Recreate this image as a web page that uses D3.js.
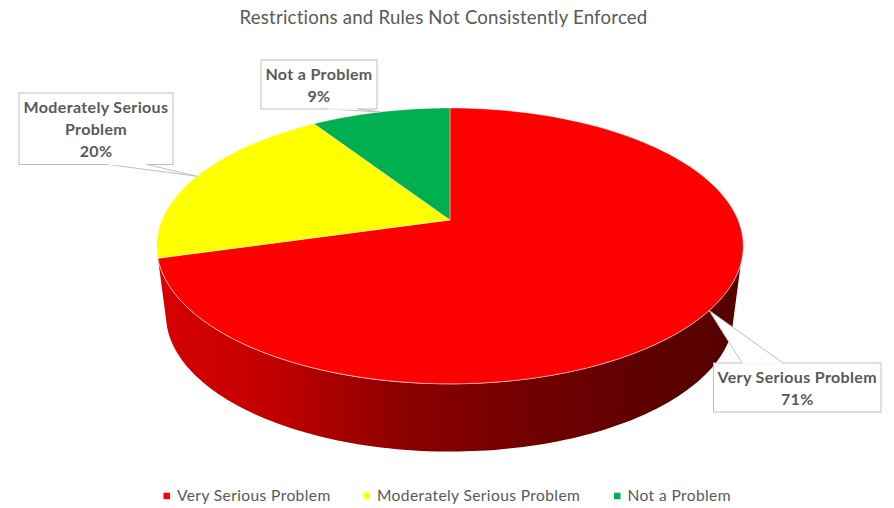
<!DOCTYPE html>
<html><head><meta charset="utf-8">
<script src="https://cdn.jsdelivr.net/npm/d3@7"></script>
<style>html,body{margin:0;padding:0;background:#fff}svg{display:block}text{font-family:Lato,Carlito,sans-serif}</style>
</head><body><svg id="c" width="894" height="508"></svg>
<script>
const chartTitle = "Restrictions and Rules Not Consistently Enforced";
const categories = ["Very Serious Problem", "Moderately Serious Problem", "Not a Problem"];
const values = [70.6, 20.2, 9.2];
const colors = ["#ff0000", "#ffff00", "#00b050"];
const labelLines = [["Very Serious Problem"], ["Moderately Serious", "Problem"], ["Not a Problem"]];
const labelBoxes = [[713.5,363,167.5,49,742,783],[19,93,154,71.5,108,147],[261,60,116,49,327,358]];
const legendX = [163.5, 363.5, 614];

const svg = d3.select("#c");
const defs = svg.append("defs");
const grad = defs.append("linearGradient").attr("id","side").attr("gradientUnits","userSpaceOnUse")
  .attr("x1",158).attr("x2",743).attr("y1",0).attr("y2",0);
[[0,"#d80000"],[0.2,"#c00000"],[0.42,"#8c0000"],[0.62,"#740000"],[0.85,"#5c0000"],[1,"#560000"]]
  .forEach(s=>grad.append("stop").attr("offset",s[0]).attr("stop-color",s[1]));

// perspective projection of the pie disc
const k = 0.188;
const proj = (a, b, y0) => th => {
  const u = Math.sin(th), v = Math.cos(th), w = 1 + k*v;
  return [450 + a*u/w, y0 - b*v/w];
};
const topFace = proj(288,133,220), bottomFace = proj(279,132,289);
const arcs = d3.pie().sort(null).value(d=>d)(values);
const samples = (a0,a1,f) => d3.range(0,121).map(i=>f(a0+(a1-a0)*i/120));
const line = d3.line();

// side wall
const sideA = 108*Math.PI/180, sideB = arcs[0].endAngle;
svg.append("path").attr("fill","url(#side)")
  .attr("d", line(samples(sideA,sideB,topFace).concat(samples(sideB,sideA,bottomFace)))+"Z");
// rim highlight
svg.append("path").attr("fill","none").attr("stroke","#ffd0d0").attr("stroke-width",1)
  .attr("d", line(samples(sideA,sideB,topFace)));

// top face
svg.selectAll("path.slice").data(arcs).join("path").attr("class","slice")
  .attr("fill",(d,i)=>colors[i]).attr("stroke","#ffffff").attr("stroke-opacity",0.45).attr("stroke-width",0.8)
  .attr("d", d=>line([[450,220]].concat(samples(d.startAngle,d.endAngle,topFace)))+"Z");

// title
svg.append("text").attr("x",443.5).attr("y",24).attr("text-anchor","middle")
  .attr("font-size",18.6).attr("letter-spacing",0.21).attr("fill","#595959").text(chartTitle);

// callouts
arcs.forEach((d,i)=>{
  const [x,y,w,h,l0,l1] = labelBoxes[i];
  const tip = topFace((d.startAngle+d.endAngle)/2);
  const base = i===0 ? y : y+h;
  const g = svg.append("g");
  g.append("rect").attr("x",x).attr("y",y).attr("width",w).attr("height",h)
    .attr("fill","#fff").attr("stroke","#bfbfbf").attr("stroke-width",1);
  g.append("path").attr("fill","#fff").attr("stroke","#bfbfbf").attr("stroke-width",1)
    .attr("d",line([[l0,base],tip,[l1,base]]));
  g.append("path").attr("stroke","#fff").attr("stroke-width",1.4)
    .attr("d",line([[l0+1,base],[l1-1,base]]));
  const rows = labelLines[i].concat([Math.round(values[i])+"%"]);
  const t = g.append("text").attr("text-anchor","middle").attr("font-size",16)
    .attr("letter-spacing",0.35).attr("font-weight",700).attr("fill","#595959");
  rows.forEach((r,j)=>t.append("tspan").attr("x",x+w/2).attr("y",y+20+j*22).text(r));
});

// legend
categories.forEach((c,i)=>{
  svg.append("rect").attr("x",legendX[i]).attr("y",492.7).attr("width",6.5).attr("height",6.5).attr("fill",colors[i]);
  svg.append("text").attr("x",legendX[i]+13.5).attr("y",501).attr("font-size",15.6)
    .attr("letter-spacing",0.37).attr("fill","#595959").text(c);
});
</script></body></html>
